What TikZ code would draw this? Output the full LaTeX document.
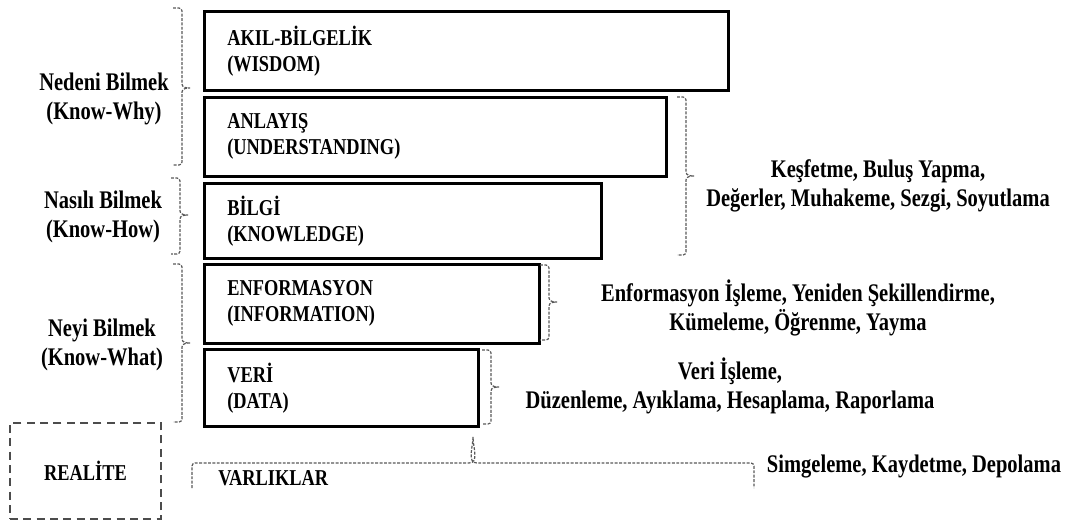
\documentclass[tikz,border=0pt]{standalone}
\usepackage{fontspec}
\setmainfont{Liberation Serif}[FakeStretch=0.81]
\newcommand\boxfont{\fontsize{17}{19.5}\selectfont\bfseries}
\newcommand\sidefont{\fontsize{19}{21.75}\selectfont\bfseries}
% vertical curly brace "}" : x, top y, bottom y, tip y
\newcommand\vbr[4]{%
  \draw[brc] ({#1-9},#2) -- ({#1-3},#2) to[out=0,in=90] (#1,{#2+3})
    -- (#1,{#4-4}) to[out=-90,in=180] ({#1+8},#4)
    to[out=180,in=90] (#1,{#4+4})
    -- (#1,{#3-3}) to[out=-90,in=0] ({#1-3},#3) -- ({#1-9},#3);}
% horizontal curly brace opening downwards: y, left x, right x, tip x
\newcommand\hbr[4]{%
  \draw[brc] (#2,{#1+25}) -- (#2,{#1+3}) to[out=90,in=180] ({#2+3},#1)
    -- ({#4-4},#1) to[out=0,in=-90] (#4,{#1-26})
    to[out=-90,in=180] ({#4+4},#1)
    -- ({#3-3},#1) to[out=0,in=90] (#3,{#1+3}) -- (#3,{#1+25});}
\begin{document}
\begin{tikzpicture}[x=0.75pt,y=-0.75pt,
  level/.style={draw=black, line width=2pt, align=left, anchor=north west,
    inner xsep=17.25pt, inner ysep=0pt, font=\boxfont},
  side/.style={align=center, inner sep=0pt, font=\sidefont},
  brc/.style={draw=black!65, line width=0.9pt, dash pattern=on 2.2pt off 1.1pt},
  realbox/.style={draw=black!70, line width=1.4pt, dash pattern=on 6pt off 4pt,
    minimum width=113.25pt, minimum height=72pt, font=\boxfont}]
\path[use as bounding box] (0,0) rectangle (1073,521);

% knowledge hierarchy levels
\node[level, text width=358.5pt, minimum height=59.25pt] (wis) at (203,10)
  {AKIL-BİLGELİK\\(WISDOM)};
\node[level, text width=312pt, minimum height=59.25pt] (und) at (203,96)
  {ANLAYIŞ\\(UNDERSTANDING)};
\node[level, text width=263.25pt, minimum height=56.25pt] (kno) at (203,182)
  {BİLGİ\\(KNOWLEDGE)};
\node[level, text width=216.75pt, minimum height=59.25pt] (inf) at (203,263)
  {ENFORMASYON\\(INFORMATION)};
\node[level, text width=171pt, minimum height=57.75pt] (dat) at (203,348)
  {VERİ\\(DATA)};

% reality and entities
\node[realbox] (realite) at (85.5,471) {REALİTE};
\node[font=\boxfont, anchor=west, inner sep=0pt] (varlik) at (218,478) {VARLIKLAR};

% kinds of knowing on the left
\node[side] (why) at (104,99) {Nedeni Bilmek\\(Know-Why)};
\node[side] (how) at (103,217) {Nasılı Bilmek\\(Know-How)};
\node[side] (what) at (102,345) {Neyi Bilmek\\(Know-What)};

% processes on the right
\node[side] (rUK) at (878,186) {Keşfetme, Buluş Yapma,\\Değerler, Muhakeme, Sezgi, Soyutlama};
\node[side] (rInf) at (798,308) {Enformasyon İşleme, Yeniden Şekillendirme,\\Kümeleme, Öğrenme, Yayma};
\node[side] (rDat) at (730,386) {Veri İşleme,\\Düzenleme, Ayıklama, Hesaplama, Raporlama};
\node[side] (rSim) at (914,466) {Simgeleme, Kaydetme, Depolama};

% braces
\vbr{182}{8}{165}{88}
\vbr{180}{178}{254}{215}
\vbr{182}{264}{422}{343}
\vbr{686}{97}{255}{176}
\vbr{549}{265}{340}{302}
\vbr{491}{350}{424}{387}
\hbr{463}{192}{754}{473}
\end{tikzpicture}
\end{document}
